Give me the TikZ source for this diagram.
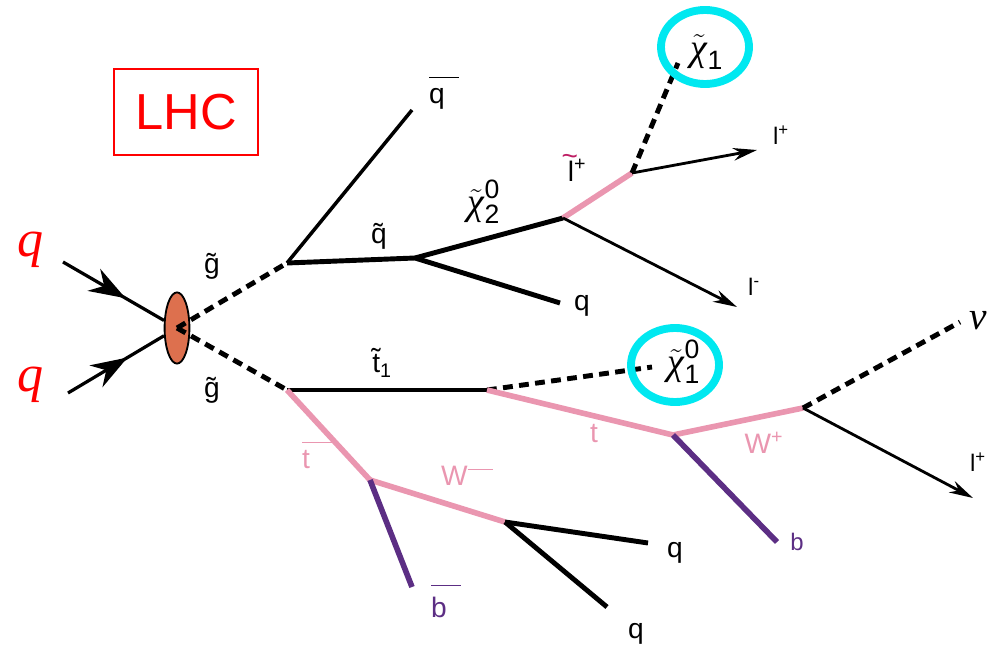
\documentclass[tikz,border=0pt]{standalone}
\usepackage{amsmath}
\usepackage{fontspec}
\setmainfont{Liberation Sans}
\newfontfamily\grkfont{Liberation Serif}
\usetikzlibrary{arrows.meta, decorations.markings, shapes.geometric}
\definecolor{partpink}{RGB}{234,150,176}
\definecolor{bpurple}{RGB}{92,46,132}
\definecolor{tildemag}{RGB}{190,30,100}
\definecolor{ringcyan}{RGB}{0,232,240}
\definecolor{blobfill}{RGB}{221,112,78}
\newcommand{\sleptilde}{\rlap{\raisebox{0.55em}{\kern-0.22em\textcolor{tildemag}{\textasciitilde}}}l}
\newcommand{\neut}[2]{$\tilde{\text{\grkfont\itshape χ}}^{\text{#1}}_{\text{#2}}$}
\newcommand{\barred}[2]{\rlap{\raisebox{#2}{\rule{1.05em}{0.05em}}}#1}
\begin{document}
\begin{tikzpicture}[
    x=0.025cm, y=-0.025cm,
    every node/.style={font=\fontsize{20}{24}\selectfont, inner sep=0pt},
    fermion/.style={line width=3.5pt},
    lepton/.style={line width=2pt, -{Stealth[length=17pt, width=9pt]}},
    sparticle/.style={line width=3.5pt, dash pattern=on 7pt off 4.5pt},
    heavy/.style={line width=4pt, partpink},
    bquark/.style={line width=4pt, bpurple},
    incoming/.style={line width=2.3pt, decoration={markings,
        mark=at position 0.62 with {\arrow{Stealth[length=26pt, width=18pt]}}},
        postaction={decorate}},
    ring/.style={draw=ringcyan, line width=5.6pt, ellipse,
        minimum width=2.2cm, minimum height=1.85cm},
    small/.style={font=\fontsize{17}{20}\selectfont},
    neutlbl/.style={font=\fontsize{27}{29}\selectfont},
    inq/.style={text=red, font=\grkfont\itshape\fontsize{37}{40}\selectfont}
]
\useasboundingbox (0,0) rectangle (991,648);

% Title box
\node[draw=red, line width=0.8pt, minimum width=3.6cm, minimum height=2.15cm,
    text=red, font=\fontsize{36}{40}\selectfont] (lhc) at (186,112) {LHC};

% Production: q q -> gluino gluino
\node[draw, ellipse, fill=blobfill, line width=1.3pt,
    minimum width=0.62cm, minimum height=1.78cm] (blob) at (177,328) {};
\node[inq] (qa) at (31,250) {q};
\node[inq] (qb) at (31,385) {q};
\coordinate (qin1) at (63,262);
\coordinate (qin2) at (68,393);
\draw[incoming] (qin1) -- (blob);
\draw[incoming] (qin2) -- (blob);

\coordinate (sq) at (287,263);
\coordinate (stop) at (287,390);
\draw[sparticle] (blob.center) -- (sq);
\draw[sparticle] (blob.center) -- (stop);
\node (glu1) at (212,266) {\~{g}};
\node (glu2) at (212,390) {\~{g}};

% Upper chain: squark -> neutralino -> slepton
\coordinate (qbarend) at (412,110);
\coordinate (sqdec) at (415,258);
\coordinate (neu2) at (563,218);
\coordinate (qend1) at (560,303);
\coordinate (slep) at (632,173);
\coordinate (lmend) at (737,307);
\coordinate (chi1end) at (678,63);
\coordinate (lpend) at (757,150);
\draw[line width=2.5pt] (sq) -- (qbarend);
\draw[fermion] (sq) -- (sqdec);
\draw[fermion] (sqdec) -- (neu2);
\draw[fermion] (sqdec) -- (qend1);
\draw[heavy] (neu2) -- (slep);
\draw[lepton] (neu2) -- (lmend);
\draw[sparticle] (slep) -- (chi1end);
\draw[lepton] (slep) -- (lpend);
\node (qbarlbl) at (437,93) {\barred{q}{0.88em}};
\node (sqlbl) at (379,236) {\~{q}};
\node[neutlbl] (neu2lbl) at (484,202) {\neut{0}{2}};
\node (sleplbl) at (577,168) {\sleptilde\textsuperscript{+}};
\node (q1lbl) at (582,306) {q};
\node[small] (lmlbl) at (754,287) {l\textsuperscript{-}};
\node[small] (lplbl) at (781,135) {l\textsuperscript{+}};
\node[neutlbl] (chi1lbl) at (707,52) {\neut{}{1}};
\node[ring] (ring1) at (705,47) {};

% Lower chain: stop -> top neutralino, antitop
\coordinate (stopdec) at (487,390);
\coordinate (chi01end) at (652,367);
\coordinate (top) at (673,435);
\coordinate (wp) at (803,408);
\coordinate (bend) at (777,542);
\coordinate (nuend) at (960,322);
\coordinate (lp2end) at (973,498);
\coordinate (tbar) at (370,480);
\coordinate (wm) at (505,522);
\coordinate (bbarend) at (412,587);
\coordinate (qend2) at (648,543);
\coordinate (qend3) at (607,607);
\draw[fermion] (stop) -- (stopdec);
\draw[sparticle] (stopdec) -- (chi01end);
\draw[heavy] (stopdec) -- (top);
\draw[heavy] (top) -- (wp);
\draw[bquark] (top) -- (bend);
\draw[sparticle] (wp) -- (nuend);
\draw[lepton] (wp) -- (lp2end);
\draw[heavy] (stop) -- (tbar);
\draw[heavy] (tbar) -- (wm);
\draw[bquark] (tbar) -- (bbarend);
\draw[fermion] (wm) -- (qend2);
\draw[fermion] (wm) -- (qend3);
\node (stoplbl) at (382,363) {\~{t}\textsubscript{1}};
\node[neutlbl] (chi01lbl) at (684,362) {\neut{0}{1}};
\node[ring] (ring2) at (675,365) {};
\node[text=partpink] (toplbl) at (594,434) {t};
\node[text=partpink] (wplbl) at (764,443) {W\textsuperscript{+}};
\node[text=bpurple, small] (blbl) at (797,542) {b};
\node[font=\grkfont\itshape\fontsize{28}{30}\selectfont] (nulbl) at (978,321) {ν};
\node[small] (lp2lbl) at (978,462) {l\textsuperscript{+}};
\node[text=partpink] (tbarlbl) at (306,455) {\barred{t}{0.9em}};
\node[text=partpink] (wmlbl) at (467,476)
    {W\raisebox{0.55em}{\rule{0.9em}{0.06em}}};
\node[text=bpurple] (bbarlbl) at (439,601) {\barred{b}{1.1em}};
\node (q2lbl) at (675,553) {q};
\node (q3lbl) at (636,634) {q};

\end{tikzpicture}
\end{document}
